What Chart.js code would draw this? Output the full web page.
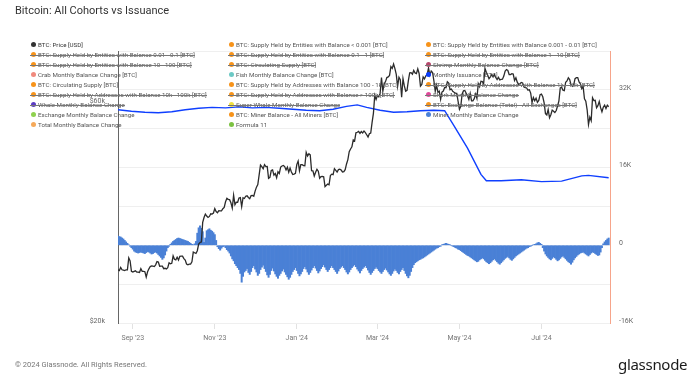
<!DOCTYPE html>
<html><head><meta charset="utf-8">
<script src="https://cdn.jsdelivr.net/npm/chart.js@4.4.1/dist/chart.umd.min.js"></script>
<style>
html,body{margin:0;padding:0;background:#fff;}
#wrap{position:relative;width:696px;height:379px;overflow:hidden;font-family:Roboto,"Liberation Sans",sans-serif;}
#c{position:absolute;left:0;top:0;}
#title{position:absolute;left:15px;top:4px;font-size:11px;color:#333;white-space:nowrap;}
#legend{position:absolute;left:0;top:0;width:696px;height:140px;pointer-events:none;}
.li{position:absolute;font-size:6.2px;line-height:8px;color:#555;white-space:nowrap;}
.li .dot{position:absolute;left:-7px;top:1.5px;width:5px;height:5px;border-radius:50%;}
.li.off::after{content:"";position:absolute;left:-8px;right:0;top:4px;height:0.8px;background:#777;}
#foot{position:absolute;left:15px;top:360px;font-size:7.5px;color:#777;white-space:nowrap;}
#logo{position:absolute;left:618px;top:354px;font-size:15px;color:#1a1a1a;font-family:"Noto Sans",sans-serif;letter-spacing:-0.3px;white-space:nowrap;}
</style></head>
<body><div id="wrap">
<canvas id="c" width="696" height="379"></canvas>
<div id="title">Bitcoin: All Cohorts vs Issuance</div>
<div id="legend"></div>
<div id="foot">© 2024 Glassnode. All Rights Reserved.</div>
<div id="logo">glassnode</div>
</div>
<script>
// Start date 2023-08-21, one point per day
const startDate = '2023-08-21';
const nDays = 367;
const xTickDays = [11, 72, 133, 193, 254, 315];
const xTickLabels = ["Sep '23", "Nov '23", "Jan '24", "Mar '24", "May '24", "Jul '24"];

// BTC price [USD, thousands], daily
const priceK = [
26.1,26.0,26.4,26.1,26.05,26.0,26.1,26.1,27.7,27.3,25.9,
25.8,25.9,25.97,25.8,25.8,25.75,26.24,25.9,25.9,25.85,25.16,25.84,26.23,26.53,26.6,26.57,26.53,26.76,27.2,27.13,26.57,26.58,26.58,26.25,26.3,26.22,26.37,27.03,26.91,26.97,
27.98,27.5,27.43,27.79,27.41,27.93,27.96,27.94,27.6,27.4,26.87,26.76,26.86,26.86,27.16,28.52,28.42,28.33,28.72,29.68,29.92,30.0,33.09,33.9,34.5,34.16,33.91,34.09,34.54,34.5,34.67,
35.44,34.94,34.73,35.08,35.05,35.04,35.43,35.66,36.69,37.31,37.13,37.07,36.5,35.55,37.88,36.15,36.6,36.59,37.39,37.47,35.81,37.42,37.29,37.72,37.8,37.48,37.25,37.83,37.85,37.71,
38.69,39.47,39.97,41.98,44.08,43.75,43.29,44.17,43.73,43.77,41.24,41.45,42.89,43.03,41.93,42.24,41.36,42.62,42.27,43.65,43.87,43.99,43.74,43.02,43.61,42.52,43.44,42.58,42.07,42.14,42.28,
44.18,44.96,42.85,44.18,44.16,43.97,43.93,46.97,46.13,46.63,46.37,42.85,42.84,41.73,42.51,43.15,42.74,41.26,41.62,41.67,41.58,39.57,39.85,40.08,39.93,41.82,42.12,42.03,43.3,42.94,42.58,
43.08,43.19,42.99,42.58,42.66,43.08,44.32,45.3,47.15,47.77,48.29,49.96,49.7,51.8,51.94,52.16,51.66,52.12,51.78,52.28,51.84,51.3,50.73,51.57,51.73,54.52,57.09,62.5,61.2,
62.44,62.03,63.17,68.33,63.8,66.11,66.93,68.3,68.5,69.02,72.12,71.48,73.08,71.4,69.4,65.32,68.39,67.55,61.91,67.91,65.49,63.78,64.06,67.23,69.96,69.99,69.46,70.78,69.89,69.64,71.33,
69.7,65.45,65.98,68.51,67.84,68.9,69.36,71.62,69.14,70.59,70.06,67.2,63.77,65.71,63.42,63.79,61.28,63.51,63.84,64.99,64.93,66.84,66.41,64.28,64.5,63.77,63.46,63.21,63.11,60.61,
58.25,59.12,62.89,63.89,64.03,63.16,62.33,61.19,63.05,60.79,60.79,61.45,62.9,61.55,66.27,65.23,67.05,66.94,66.28,71.45,70.14,69.12,67.93,68.53,69.27,68.52,69.39,68.3,67.59,68.36,67.49,
67.7,67.75,68.8,70.56,71.08,70.76,69.34,69.31,69.65,69.5,67.32,68.24,66.75,66.01,66.19,66.64,66.49,65.14,64.96,64.83,64.1,64.25,63.18,60.28,61.8,60.81,61.6,60.32,60.89,62.68,
62.85,62.03,60.17,57.03,56.66,58.23,55.85,56.71,58.05,57.72,57.34,57.9,59.23,60.79,64.87,65.1,64.12,63.97,66.71,67.15,68.19,67.58,65.93,65.37,65.8,67.91,68.25,68.26,66.82,66.2,64.62,
65.36,61.41,60.68,58.12,53.99,56.03,55.03,61.71,60.88,60.94,58.71,59.35,60.61,58.74,57.56,58.87,59.48,58.48,59.49,59.01
];

// Monthly issuance [BTC, thousands], read at these days
const issuanceDays = [0,10,20,30,40,50,60,70,80,90,100,110,120,130,140,150,160,170,178,185,195,205,215,225,235,243,250,260,270,274,285,300,315,330,345,350,365];
const issuanceK   = [27.9,27.6,27.4,27.3,27.5,27.9,28.2,28.4,28.3,28.5,28.3,28.4,28.2,28.0,27.8,27.7,28.0,28.6,28.9,28.4,27.8,27.4,27.5,27.7,27.8,27.7,24.6,20.0,14.6,13.3,13.3,13.5,13.1,13.2,14.3,14.4,13.9];

// Miner monthly balance change [BTC, thousands], daily
const minerChangeK = [
1.9,1.8,1.7,1.5,1.3,1.0,0.7,0.4,
0.1,-0.2,-0.5,-0.8,
-1.2,-1.4,-1.5,-1.6,-1.5,-1.4,-1.5,-1.6,-1.7,-1.5,-1.3,-1.4,-1.6,-1.8,-1.7,-1.5,-1.4,-1.6,-1.9,
-2.2,-2.5,-2.9,-2.6,-2.0,-1.2,-0.5,
-0.2,0.2,0.5,
0.8,1.0,1.2,1.4,1.5,1.4,1.3,1.2,1.1,1.0,0.9,0.8,0.6,0.4,0.2,
0.1,0.3,0.8,
2.5,3.6,4.0,3.5,2.8,
0.6,1.5,3.0,
3.2,3.4,3.1,2.9,2.6,2.2,1.0,
-0.3,-0.7,-1.0,-0.6,
-0.3,-0.2,-0.5,-0.9,-1.2,-1.6,-2.2,-2.8,
-3.2,-3.8,-4.2,-4.6,-5.0,-5.8,-7.6,-6.4,-5.5,
-5.2,-4.8,-5.6,-6.0,-5.4,-4.6,-4.2,-4.9,-5.5,-6.2,-5.8,-5.0,-4.5,-4.1,-4.8,-5.4,-6.1,-6.6,-6.0,-5.2,-4.7,-5.3,-5.9,-6.4,-6.8,-6.2,
-5.8,-5.3,-4.9,-5.5,-6.0,-6.5,-7.0,-6.6,-6.0,-5.4,-5.0,-4.6,-5.2,-5.8,-6.3,-5.9,-5.4,-4.8,-4.4,-4.9,-5.5,-6.0,-5.6,-5.1,-4.6,-4.2,-4.7,-5.2,-5.7,-5.3,-4.8,-4.4,-4.0,-4.5,-5.0,-5.4,-5.0,-4.6,-4.2,-4.6,
-5.0,-5.4,-5.8,-5.3,-4.8,-4.5,-4.2,-4.6,-5.0,-5.5,-5.9,-5.5,-5.0,-4.6,-4.3,-4.0,-4.4,-4.9,-5.3,-5.7,-5.2,-4.8,-4.5,-4.2,-4.6,-5.1,-5.6,-6.0,-5.6,-5.2,-4.8,-4.5,-4.8,-5.2,-5.5,-5.8,-5.4,-5.0,-4.7,-5.1,-5.5,-5.9,-6.2,-5.8,-5.3,-4.9,-5.2,-5.6,-5.9,-5.4,
-5.0,-4.6,-5.2,-5.8,-6.3,-6.7,-6.2,-5.4,-4.6,-4.0,-3.6,-3.4,-3.2,-3.0,-2.9,-2.7,-2.6,-2.4,-2.2,-2.0,-1.8,-1.6,-1.4,-1.2,-1.0,-0.8,-0.6,-0.5,-0.3,-0.2,
0.1,0.2,0.3,0.4,0.3,0.2,0.1,0.0,-0.2,-0.3,-0.5,-0.6,-0.8,-0.9,-1.1,-1.3,-1.5,-1.7,
-1.9,-2.1,-2.2,-2.4,-2.6,-2.8,-3.0,-3.2,-3.4,-3.3,-3.0,-2.8,-2.6,-2.8,-3.1,-3.4,-3.6,-3.8,-3.6,-3.3,-3.0,-2.8,-3.1,-3.4,-3.7,-3.9,-3.6,-3.3,-3.0,-2.7,-2.5,-2.3,-2.6,-2.9,-3.1,-2.8,-2.5,-2.2,-2.0,-1.8,-1.6,-1.4,
-1.2,-1.0,-0.8,-0.6,-0.5,-0.3,-0.2,0.0,0.1,0.2,0.3,0.5,0.6,0.4,0.2,
-0.5,-1.2,-1.8,-2.2,-2.5,-2.8,-3.0,-2.7,-2.4,-2.6,-2.9,-3.2,-3.0,-2.7,-2.4,-2.2,-2.5,-2.8,-3.1,-3.4,-3.6,-3.9,-3.5,-3.0,-2.6,
-2.3,-2.0,-1.8,-1.6,-1.5,-1.4,-1.6,-1.8,-2.0,-2.2,-1.9,-1.6,-1.4,-1.5,-1.7,-1.9,-2.1,-2.0,-1.4,-0.5,0.3,0.7,1.0,1.3,1.5
];

// Legend (3 columns, row-major): [label, colour, hidden]
const legendItems = [
["BTC: Price [USD]","#333333",false],
["BTC: Supply Held by Entities with Balance < 0.001 [BTC]","#f7931a",false],
["BTC: Supply Held by Entities with Balance 0.001 - 0.01 [BTC]","#f7931a",false],
["BTC: Supply Held by Entities with Balance 0.01 - 0.1 [BTC]","#f7931a",true],
["BTC: Supply Held by Entities with Balance 0.1 - 1 [BTC]","#f7931a",true],
["BTC: Supply Held by Entities with Balance 1 - 10 [BTC]","#f7931a",true],
["BTC: Supply Held by Entities with Balance 10 - 100 [BTC]","#f7931a",true],
["BTC: Circulating Supply [BTC]","#f7931a",true],
["Shrimp Monthly Balance Change [BTC]","#b5476b",true],
["Crab Monthly Balance Change [BTC]","#f08a7e",false],
["Fish Monthly Balance Change [BTC]","#6cc9c5",false],
["Monthly Issuance [BTC]","#0a3dff",false],
["BTC: Circulating Supply [BTC]","#f7931a",false],
["BTC: Supply Held by Addresses with Balance 100 - 1k [BTC]","#f7931a",false],
["BTC: Supply Held by Addresses with Balance 1k - 10k [BTC]","#f7931a",true],
["BTC: Supply Held by Addresses with Balance 10k - 100k [BTC]","#f7931a",true],
["BTC: Supply Held by Addresses with Balance > 100k [BTC]","#f7931a",true],
["Shark Monthly Balance Change","#e0489a",true],
["Whale Monthly Balance Change","#5b3cc4",true],
["Super Whale Monthly Balance Change","#f2e03c",true],
["BTC: Exchange Balance (Total) - All Exchanges [BTC]","#f7931a",true],
["Exchange Monthly Balance Change","#8fd14f",false],
["BTC: Miner Balance - All Miners [BTC]","#f7931a",false],
["Miner Monthly Balance Change","#4a80d6",false],
["Total Monthly Balance Change","#f5a95a",false],
["Formula 11","#7cc242",false]
];

// ---- build legend ----
const legCols = [38, 236, 433];
const leg = document.getElementById('legend');
legendItems.forEach((it, i) => {
  const col = i % 3, row = Math.floor(i / 3);
  const d = document.createElement('div');
  d.className = 'li' + (it[2] ? ' off' : '');
  d.style.left = legCols[col] + 'px';
  d.style.top = (44.7 + row * 10 - 4) + 'px';
  if (i === 0) d.style.color = '#333';
  const dot = document.createElement('span');
  dot.className = 'dot';
  dot.style.background = it[1];
  d.appendChild(dot);
  d.appendChild(document.createTextNode(it[0]));
  leg.appendChild(d);
});

// ---- datasets ----
const pricePts = priceK.map((v, i) => ({x: i, y: v * 1000}));
const issPts = issuanceDays.map((d, i) => ({x: d, y: issuanceK[i] * 1000}));
const minerPts = minerChangeK.map((v, i) => ({x: i, y: v * 1000}));

const fmtK = v => (v === 0 ? '0' : (v / 1000) + 'K');

new Chart(document.getElementById('c'), {
  data: {
    datasets: [
      {type: 'line', label: 'BTC: Price [USD]', data: pricePts, yAxisID: 'y', borderColor: '#2b2b2b', borderWidth: 1.3, pointRadius: 0, tension: 0, order: 0},
      {type: 'line', label: 'Monthly Issuance [BTC]', data: issPts, yAxisID: 'y1', borderColor: '#0f3fff', borderWidth: 1.4, pointRadius: 0, tension: 0, order: 1},
      {type: 'bar', label: 'Miner Monthly Balance Change', data: minerPts, yAxisID: 'y1', backgroundColor: '#4a80d6', borderWidth: 0, barPercentage: 1, categoryPercentage: 1, order: 2}
    ]
  },
  options: {
    responsive: false, animation: false, devicePixelRatio: 1,
    layout: {padding: {top: 51, left: 0, right: 0, bottom: 0}},
    plugins: {legend: {display: false}, tooltip: {enabled: false}},
    scales: {
      x: {
        type: 'linear', min: 0, max: nDays - 1, position: 'bottom', offset: false,
        afterFit: s => { s.height = 56; },
        afterBuildTicks: s => { s.ticks = xTickDays.map(v => ({value: v})); },
        ticks: {autoSkip: false, maxRotation: 0, padding: 5, color: '#777', font: {family: 'Roboto', size: 7},
          callback: v => { const k = xTickDays.indexOf(v); return k >= 0 ? xTickLabels[k] : ''; }},
        grid: {offset: false, drawOnChartArea: false, drawTicks: true, tickLength: 6, color: '#e2e2e2'},
        border: {display: false}
      },
      y: {
        type: 'logarithmic', position: 'left', min: 20000, max: 78000,
        afterFit: s => { s.width = 118; },
        afterBuildTicks: s => { s.ticks = [{value: 20000}, {value: 60000}]; },
        ticks: {padding: 5, labelOffset: -2, color: '#666', font: {family: 'Roboto', size: 7},
          callback: v => '$' + (v / 1000) + 'k'},
        grid: {display: false},
        border: {display: true, color: '#666', width: 1}
      },
      y1: {
        type: 'linear', position: 'right', min: -16000, max: 40000,
        afterFit: s => { s.width = 86; },
        ticks: {stepSize: 8000, padding: 9, labelOffset: -2, color: '#666', font: {family: 'Roboto', size: 7},
          callback: v => (v % 16000 === 0 ? fmtK(v) : '')},
        grid: {color: '#efefef', drawTicks: false},
        border: {display: true, color: '#f6a48a', width: 1}
      }
    }
  }
});
</script>
</body></html>
